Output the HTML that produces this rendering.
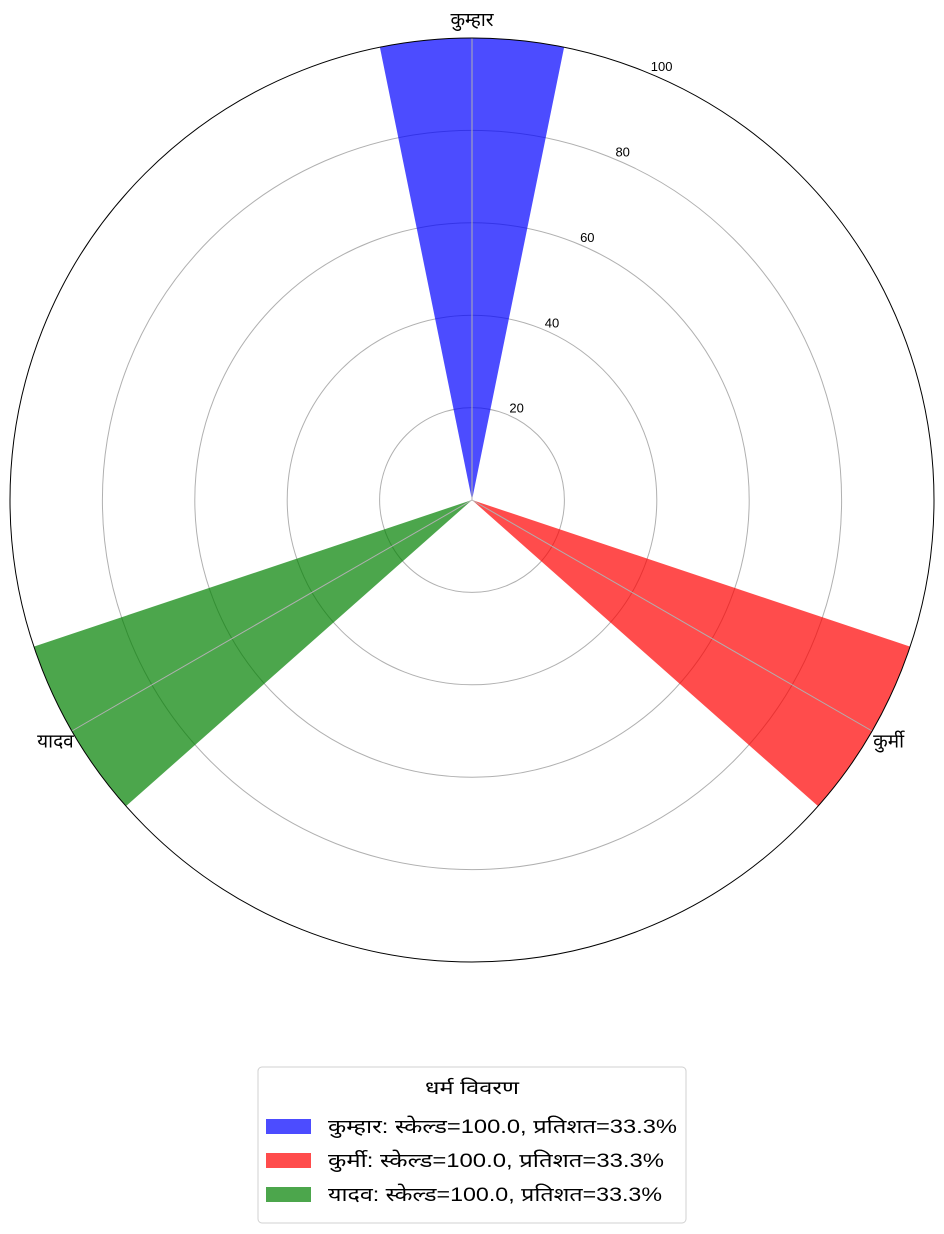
<!DOCTYPE html>
<html><head><meta charset="utf-8"><style>
body{margin:0;background:#fff;}
svg{display:block;font-family:"Liberation Sans","DejaVu Sans","Noto Sans Devanagari",sans-serif;}
</style></head><body>
<svg id="chart" width="944" height="1234" viewBox="0 0 944 1234">
<g id="grid"></g>
<g id="bars"></g>
<g id="spokes"></g>
<g id="labels"></g>
<g id="legend"></g>
</svg>
<script>
const categories = ["कुम्हार", "कुर्मी", "यादव"];
const values = [100, 100, 100];
const percents = [33.3, 33.3, 33.3];
const angles = [90, -30, 210];
const colors = ["#0000ff", "#ff0000", "#008000"];
const ticks = [20, 40, 60, 80, 100];
const legendTitle = "धर्म विवरण";

const NS = "http://www.w3.org/2000/svg";
const cx = 472, cy = 500, R = 462, rmax = 100;
const rScale = v => v / rmax * R;
const barWidth = 23;
const legendWidths = [349, 336, 334];
function mk(tag, attrs, parent) { const e = document.createElementNS(NS, tag); for (const k in attrs) e.setAttribute(k, attrs[k]); parent.appendChild(e); return e; }
function pt(a, r) { const t = a * Math.PI / 180; return [cx + r * Math.cos(t), cy - r * Math.sin(t)]; }

const grid = document.getElementById('grid');
ticks.forEach(t => {
  if (t >= rmax) return;
  const c = mk('circle', {cx, cy, r: rScale(t), fill: 'none', stroke: '#b0b0b0', 'stroke-width': 1}, grid);
  
  
});

const bars = document.getElementById('bars');
categories.forEach((c, i) => {
  const r = rScale(values[i]);
  const a0 = angles[i] - barWidth / 2, a1 = angles[i] + barWidth / 2;
  const p0 = pt(a0, r), p1 = pt(a1, r);
  const p = mk('path', {d: `M${cx},${cy} L${p0[0]},${p0[1]} A${r},${r} 0 0 0 ${p1[0]},${p1[1]} Z`, fill: colors[i], 'fill-opacity': 0.7}, bars);
  
  
});

const spokes = document.getElementById('spokes');
angles.forEach((a, i) => {
  const e = pt(a, R);
  const l = mk('line', {x1: cx, y1: cy, x2: e[0], y2: e[1], stroke: '#b0b0b0', 'stroke-width': 1}, spokes);
  
  
});
const outer = mk('circle', {cx, cy, r: R, fill: 'none', stroke: '#000', 'stroke-width': 1}, spokes);



const labels = document.getElementById('labels');
ticks.forEach(t => {
  const p = pt(67.5, rScale(t));
  const tx = mk('text', {x: p[0] + 2, y: p[1] - 2, 'font-size': 13, 'text-anchor': 'start'}, labels);
  tx.textContent = t;
  
  
});
categories.forEach((c, i) => {
  const p = pt(angles[i], R + 19);
  const tx = mk('text', {x: p[0], y: p[1] + 7, 'font-size': 19, 'text-anchor': 'middle'}, labels);
  tx.textContent = c;
  
  
});

const lg = document.getElementById('legend');
const box = mk('rect', {x: 258, y: 1067, width: 428, height: 156, rx: 4, fill: '#fff', stroke: '#d0d0d0'}, lg);


const tt = mk('text', {x: 425, y: 1094, 'font-size': 18, textLength: 94, lengthAdjust: 'spacingAndGlyphs'}, lg);
tt.textContent = legendTitle;


categories.forEach((c, i) => {
  const y = 1119 + i * 34;
  const r = mk('rect', {x: 266, y: y, width: 45, height: 15, fill: colors[i], 'fill-opacity': 0.7}, lg);
  
  
  const t = mk('text', {x: 328, y: y + 14, 'font-size': 19, textLength: legendWidths[i], lengthAdjust: 'spacingAndGlyphs'}, lg);
  t.textContent = `${c}: स्केल्ड=${values[i].toFixed(1)}, प्रतिशत=${percents[i].toFixed(1)}%`;
  
  
});
</script>
</body></html>
